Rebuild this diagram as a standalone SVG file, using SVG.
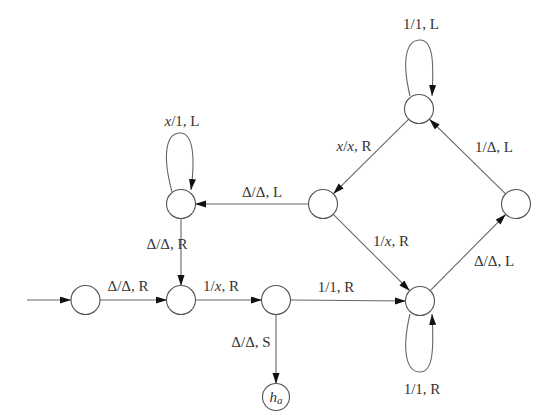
<svg xmlns="http://www.w3.org/2000/svg" width="546" height="420" viewBox="0 0 546 420">
<defs>
<marker id="ah" markerUnits="userSpaceOnUse" markerWidth="12" markerHeight="8" refX="11" refY="3.5" orient="auto">
<path d="M0,0 L11,3.5 L0,7 z" fill="#111"/>
</marker>
<style>
.st{fill:#fff;stroke:#555;stroke-width:1.1}
.ed{fill:none;stroke:#666;stroke-width:1.1;marker-end:url(#ah)}
.lb{font-family:"Liberation Serif",serif;font-size:15px;fill:#333;text-anchor:middle}
.it{font-style:italic}
</style>
</defs>
<rect width="546" height="420" fill="#fff"/>
<g id="connectors">
<path class="ed" d="M27,300 L71,300"/>
<path class="ed" d="M100,300 L167,300"/>
<path class="ed" d="M195,300 L262,300"/>
<path class="ed" d="M290,300 L406,301"/>
<path class="ed" d="M276,314 L276,384"/>
<path class="ed" d="M181,218 L181,286"/>
<path class="ed" d="M309,204 L195,204"/>
<path class="ed" d="M408.7,119.2 L333.3,193.8"/>
<path class="ed" d="M333.3,214.3 L409.7,290.7"/>
<path class="ed" d="M430.2,290.7 L505.8,214.3"/>
<path class="ed" d="M505.6,193.9 L429.4,119.2"/>
<path class="ed" d="M172,192 C162,155 166,133 180,133 C194,133 195,160 191,190"/>
<path class="ed" d="M410,96 C401,58 407,40 420,40 C433,40 434,62 432,96"/>
<path class="ed" d="M410,314 C401,352 407,372 420,372 C433,372 434,350 432,314"/>
<text class="lb" x="128" y="291">Δ/Δ, R</text>
<text class="lb" x="221" y="291">1/<tspan class="it">x</tspan>, R</text>
<text class="lb" x="251" y="347">Δ/Δ, S</text>
<text class="lb" x="167" y="249">Δ/Δ, R</text>
<text class="lb" x="182" y="126"><tspan class="it">x</tspan>/1, L</text>
<text class="lb" x="262" y="197">Δ/Δ, L</text>
<text class="lb" x="354" y="151"><tspan class="it">x</tspan>/<tspan class="it">x</tspan>, R</text>
<text class="lb" x="494" y="152">1/Δ, L</text>
<text class="lb" x="421" y="29">1/1, L</text>
<text class="lb" x="391" y="246">1/<tspan class="it">x</tspan>, R</text>
<text class="lb" x="336" y="292">1/1, R</text>
<text class="lb" x="494" y="266">Δ/Δ, L</text>
<text class="lb" x="422" y="394">1/1, R</text>
</g>
<g id="q0"><circle class="st" cx="85.5" cy="300" r="14.5"/></g>
<g id="q1"><circle class="st" cx="181" cy="300" r="14.5"/></g>
<g id="q2"><circle class="st" cx="276" cy="300" r="14.5"/></g>
<g id="ha"><circle class="st" cx="276" cy="397" r="13.5"/>
<text class="lb it" x="276" y="401.5">h<tspan font-size="11" dy="2">a</tspan></text></g>
<g id="q3"><circle class="st" cx="181" cy="204" r="14.5"/></g>
<g id="q4"><circle class="st" cx="323" cy="204" r="14.5"/></g>
<g id="q5"><circle class="st" cx="419" cy="109" r="14.5"/></g>
<g id="q6"><circle class="st" cx="516" cy="204" r="14.5"/></g>
<g id="q7"><circle class="st" cx="420" cy="301" r="14.5"/></g>
</svg>
